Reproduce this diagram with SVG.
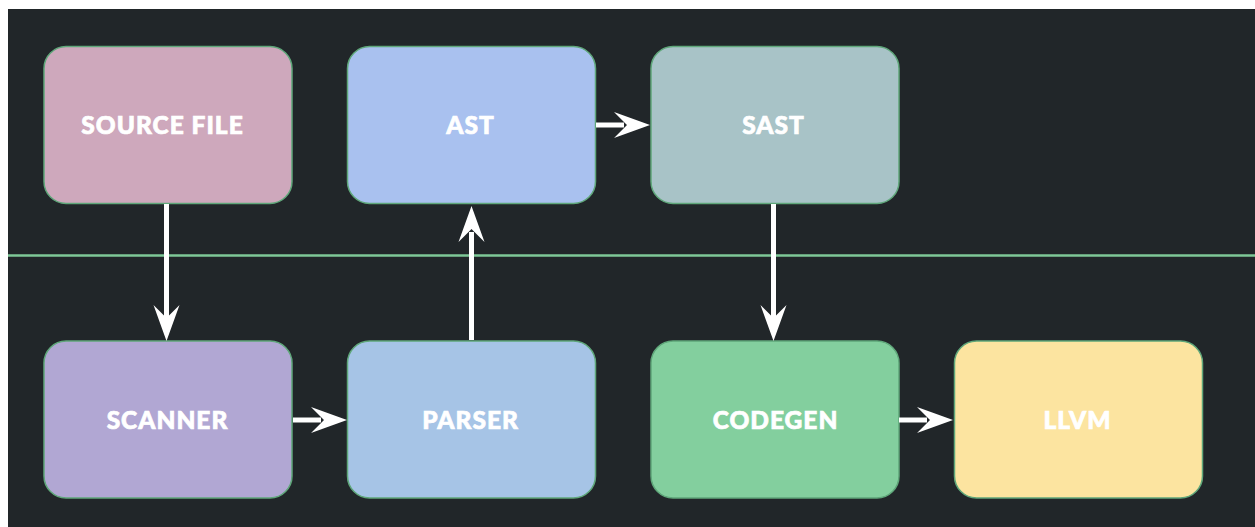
<svg xmlns="http://www.w3.org/2000/svg" width="1255" height="527" viewBox="0 0 1255 527">
<style>
.node rect{stroke:#5fa77a;stroke-width:1.5}
.node text{font-family:Lato,"Liberation Sans",sans-serif;font-weight:900;font-size:24.5px;letter-spacing:1px;fill:#ffffff;stroke:#ffffff;stroke-width:0.7;text-anchor:middle}
.conn line{stroke:#ffffff;stroke-width:5}
.conn path{fill:#ffffff}
</style>
<rect x="0" y="0" width="1255" height="527" fill="#ffffff"/>
<rect x="8" y="9" width="1247" height="518" fill="#212629"/>
<line x1="8" y1="255.5" x2="1255" y2="255.5" stroke="#7ec897" stroke-width="2.5"/>
<g id="source-file" class="node"><rect x="44" y="46.5" width="248" height="157" rx="22" fill="#cea8bc"/><text x="162.5" y="134">SOURCE FILE</text></g>
<g id="ast" class="node"><rect x="347.5" y="46.5" width="248" height="157" rx="22" fill="#a9c1ef"/><text x="470.5" y="134">AST</text></g>
<g id="sast" class="node"><rect x="651" y="46.5" width="248" height="157" rx="22" fill="#a8c3c7"/><text x="773.5" y="134">SAST</text></g>
<g id="scanner" class="node"><rect x="44" y="341" width="248" height="157" rx="22" fill="#b1a7d3"/><text x="167.5" y="429">SCANNER</text></g>
<g id="parser" class="node"><rect x="347.5" y="341" width="248" height="157" rx="22" fill="#a6c4e6"/><text x="470.5" y="429">PARSER</text></g>
<g id="codegen" class="node"><rect x="651" y="341" width="248" height="157" rx="22" fill="#83cf9e"/><text x="775.5" y="429">CODEGEN</text></g>
<g id="llvm" class="node"><rect x="954.5" y="341" width="248" height="157" rx="22" fill="#fce4a0"/><text x="1077.5" y="429">LLVM</text></g>
<g id="connectors" class="conn">
<line x1="166.5" y1="204" x2="166.5" y2="318"/>
<path d="M166.5 341 L153.5 305 L166.5 318 L179.5 305 Z"/>
<line x1="471.5" y1="340" x2="471.5" y2="232"/>
<path d="M471.5 206 L458.5 242 L471.5 229 L484.5 242 Z"/>
<line x1="596" y1="125" x2="624" y2="125"/>
<path d="M650 125 L614 112 L627 125 L614 138 Z"/>
<line x1="773.5" y1="204" x2="773.5" y2="318"/>
<path d="M773.5 341 L760.5 305 L773.5 318 L786.5 305 Z"/>
<line x1="293" y1="420" x2="321" y2="420"/>
<path d="M347 420 L311 407 L324 420 L311 433 Z"/>
<line x1="899" y1="420" x2="927" y2="420"/>
<path d="M953 420 L917 407 L930 420 L917 433 Z"/>
</g>
</svg>
